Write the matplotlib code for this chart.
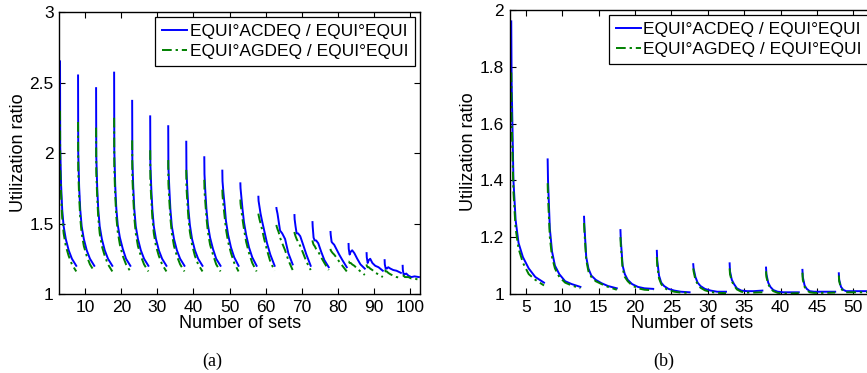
import numpy as np
import matplotlib
matplotlib.use('Agg')
import matplotlib.pyplot as plt
from matplotlib.ticker import FormatStrFormatter

plt.rcParams['font.family'] = ['Liberation Sans', 'DejaVu Sans']

# position of each point inside a block of sets (same for every block)
offsets = [0, 0.05, 0.3, 0.6, 1.0, 1.6, 2.4, 3.3, 4.5]

# --- panel (a) ---
a_starts = [3, 8, 13, 18, 23, 28, 33, 38, 43, 48, 53, 58, 63, 68, 73, 78, 83, 88, 93, 98]
a_acdeq = [
    [2.65, 2.05, 1.77, 1.60, 1.48, 1.39, 1.31, 1.25, 1.20],
    [2.55, 2.00, 1.76, 1.60, 1.48, 1.39, 1.31, 1.25, 1.20],
    [2.46, 1.98, 1.76, 1.60, 1.48, 1.39, 1.31, 1.25, 1.20],
    [2.57, 2.02, 1.77, 1.61, 1.49, 1.40, 1.32, 1.25, 1.20],
    [2.37, 1.95, 1.76, 1.60, 1.48, 1.39, 1.31, 1.25, 1.20],
    [2.26, 1.92, 1.75, 1.60, 1.48, 1.39, 1.31, 1.25, 1.20],
    [2.19, 1.90, 1.75, 1.60, 1.48, 1.39, 1.31, 1.25, 1.20],
    [2.08, 1.88, 1.74, 1.60, 1.49, 1.39, 1.31, 1.25, 1.20],
    [1.97, 1.85, 1.72, 1.60, 1.49, 1.40, 1.32, 1.25, 1.20],
    [1.875, 1.80, 1.72, 1.64, 1.52, 1.42, 1.33, 1.26, 1.20],
    [1.785, 1.75, 1.68, 1.60, 1.51, 1.42, 1.33, 1.26, 1.20],
    [1.69, 1.66, 1.62, 1.57, 1.52, 1.45, 1.36, 1.28, 1.20],
    [1.61, 1.60, 1.57, 1.52, 1.45, 1.43, 1.39, 1.29, 1.21],
    [1.56, 1.53, 1.48, 1.43, 1.43, 1.41, 1.35, 1.28, 1.20],
    [1.51, 1.48, 1.40, 1.38, 1.38, 1.36, 1.30, 1.24, 1.19],
    [1.44, 1.42, 1.37, 1.36, 1.35, 1.32, 1.28, 1.24, 1.19],
    [1.355, 1.32, 1.28, 1.30, 1.31, 1.29, 1.25, 1.21, 1.18],
    [1.29, 1.26, 1.22, 1.24, 1.25, 1.22, 1.20, 1.19, 1.165],
    [1.24, 1.21, 1.18, 1.18, 1.19, 1.18, 1.17, 1.165, 1.15],
    [1.20, 1.17, 1.135, 1.14, 1.145, 1.13, 1.12, 1.125, 1.12],
]
a_agdeq = [
    [2.30, 1.90, 1.70, 1.54, 1.43, 1.34, 1.27, 1.21, 1.16],
    [2.22, 1.88, 1.69, 1.54, 1.43, 1.34, 1.27, 1.21, 1.16],
    [2.18, 1.86, 1.69, 1.54, 1.43, 1.34, 1.27, 1.21, 1.16],
    [2.25, 1.89, 1.70, 1.55, 1.44, 1.35, 1.27, 1.21, 1.16],
    [2.09, 1.83, 1.68, 1.54, 1.43, 1.34, 1.27, 1.21, 1.16],
    [2.02, 1.80, 1.67, 1.54, 1.43, 1.34, 1.27, 1.21, 1.16],
    [1.95, 1.78, 1.66, 1.54, 1.43, 1.34, 1.27, 1.21, 1.16],
    [1.88, 1.76, 1.65, 1.54, 1.44, 1.35, 1.27, 1.21, 1.16],
    [1.81, 1.73, 1.64, 1.54, 1.44, 1.35, 1.28, 1.21, 1.16],
    [1.74, 1.70, 1.63, 1.56, 1.46, 1.37, 1.29, 1.22, 1.16],
    [1.67, 1.64, 1.59, 1.53, 1.46, 1.37, 1.29, 1.22, 1.16],
    [1.57, 1.56, 1.53, 1.50, 1.46, 1.39, 1.31, 1.23, 1.165],
    [1.49, 1.48, 1.46, 1.44, 1.40, 1.36, 1.31, 1.24, 1.17],
    [1.44, 1.43, 1.41, 1.39, 1.37, 1.34, 1.29, 1.23, 1.17],
    [1.38, 1.37, 1.35, 1.34, 1.32, 1.30, 1.26, 1.22, 1.17],
    [1.32, 1.31, 1.30, 1.29, 1.28, 1.26, 1.23, 1.20, 1.16],
    [1.23, 1.23, 1.22, 1.22, 1.21, 1.20, 1.18, 1.16, 1.135],
    [1.21, 1.20, 1.19, 1.19, 1.18, 1.17, 1.15, 1.14, 1.12],
    [1.17, 1.17, 1.16, 1.16, 1.15, 1.14, 1.13, 1.12, 1.115],
    [1.13, 1.13, 1.13, 1.12, 1.12, 1.12, 1.11, 1.11, 1.10],
]

# --- panel (b) ---
b_starts = [3, 8, 13, 18, 23, 28, 33, 38, 43, 48]
b_acdeq = [
    [1.96, 1.75, 1.40, 1.26, 1.18, 1.13, 1.09, 1.06, 1.04],
    [1.474, 1.40, 1.23, 1.15, 1.10, 1.07, 1.045, 1.035, 1.025],
    [1.272, 1.24, 1.13, 1.09, 1.065, 1.05, 1.038, 1.028, 1.02],
    [1.225, 1.19, 1.10, 1.07, 1.05, 1.035, 1.025, 1.02, 1.018],
    [1.152, 1.12, 1.065, 1.04, 1.028, 1.018, 1.012, 1.008, 1.006],
    [1.105, 1.09, 1.06, 1.04, 1.028, 1.018, 1.012, 1.008, 1.008],
    [1.108, 1.08, 1.05, 1.035, 1.02, 1.012, 1.01, 1.01, 1.012],
    [1.093, 1.07, 1.04, 1.025, 1.014, 1.008, 1.006, 1.006, 1.006],
    [1.085, 1.06, 1.03, 1.018, 1.01, 1.008, 1.008, 1.008, 1.008],
    [1.073, 1.05, 1.025, 1.015, 1.01, 1.01, 1.01, 1.01, 1.01],
]
b_agdeq = [
    [1.78, 1.62, 1.36, 1.23, 1.16, 1.11, 1.07, 1.05, 1.03],
    [1.39, 1.34, 1.20, 1.13, 1.09, 1.06, 1.04, 1.03, 1.02],
    [1.25, 1.22, 1.12, 1.08, 1.06, 1.045, 1.035, 1.025, 1.015],
    [1.20, 1.17, 1.09, 1.06, 1.045, 1.03, 1.02, 1.015, 1.013],
    [1.13, 1.10, 1.055, 1.035, 1.022, 1.013, 1.008, 1.005, 1.004],
    [1.09, 1.08, 1.05, 1.035, 1.022, 1.013, 1.007, 1.004, 1.003],
    [1.09, 1.07, 1.045, 1.03, 1.016, 1.008, 1.005, 1.005, 1.006],
    [1.08, 1.06, 1.035, 1.02, 1.01, 1.004, 1.002, 1.002, 1.003],
    [1.075, 1.05, 1.025, 1.013, 1.006, 1.004, 1.004, 1.004, 1.005],
    [1.065, 1.045, 1.02, 1.01, 1.006, 1.006, 1.006, 1.006, 1.006],
]

labels = ['EQUI\u00b0ACDEQ / EQUI\u00b0EQUI', 'EQUI\u00b0AGDEQ / EQUI\u00b0EQUI']


def join_blocks(starts, blocks):
    # one line per series, blocks separated by NaN
    xs, ys = [], []
    for s, b in zip(starts, blocks):
        xs += [s + o for o in offsets] + [np.nan]
        ys += list(b) + [np.nan]
    return np.array(xs), np.array(ys)


def panel(ax, starts, blue, green, xlim, ylim, xticks, yticks):
    x, y = join_blocks(starts, blue)
    ax.plot(x, y, color='#0000ff', lw=1.4, label=labels[0])
    x, y = join_blocks(starts, green)
    ax.plot(x, y, color='#008000', lw=1.4, dashes=(5, 2, 1.2, 2), label=labels[1])
    ax.set_xlim(*xlim)
    ax.set_ylim(*ylim)
    ax.set_xticks(xticks)
    ax.set_yticks(yticks)
    ax.yaxis.set_major_formatter(FormatStrFormatter('%g'))
    ax.tick_params(direction='in', top=True, right=True, length=4, width=0.8,
                   labelsize=12.5, pad=4)
    for sp in ax.spines.values():
        sp.set_linewidth(1.0)
    ax.set_xlabel('Number of sets', fontsize=13, labelpad=0.5)
    ax.set_ylabel('Utilization ratio', fontsize=13, labelpad=2)
    leg = ax.legend(loc='upper right', fontsize=12.5, fancybox=False,
                    borderaxespad=0.3, handlelength=1.45, handletextpad=0.15,
                    labelspacing=0.3, borderpad=0.38, framealpha=1)
    leg.get_frame().set_edgecolor('black')
    leg.get_frame().set_linewidth(0.9)


fig = plt.figure(figsize=(8.67, 3.73), dpi=100)
ax1 = fig.add_axes([0.0684, 0.2118, 0.416, 0.756])
ax2 = fig.add_axes([0.588, 0.2118, 0.4198, 0.7614])

panel(ax1, a_starts, a_acdeq, a_agdeq, (2.8, 102.8), (1, 3),
      range(10, 101, 10), [1, 1.5, 2, 2.5, 3])
panel(ax2, b_starts, b_acdeq, b_agdeq, (2.8, 52.8), (1, 2),
      range(5, 51, 5), [1, 1.2, 1.4, 1.6, 1.8, 2])

fig.text(0.245, 0.032, '(a)', ha='center', va='center', fontsize=13,
         family='Liberation Serif')
fig.text(0.765, 0.032, '(b)', ha='center', va='center', fontsize=13,
         family='Liberation Serif')

fig.savefig('out.png', dpi=100)
